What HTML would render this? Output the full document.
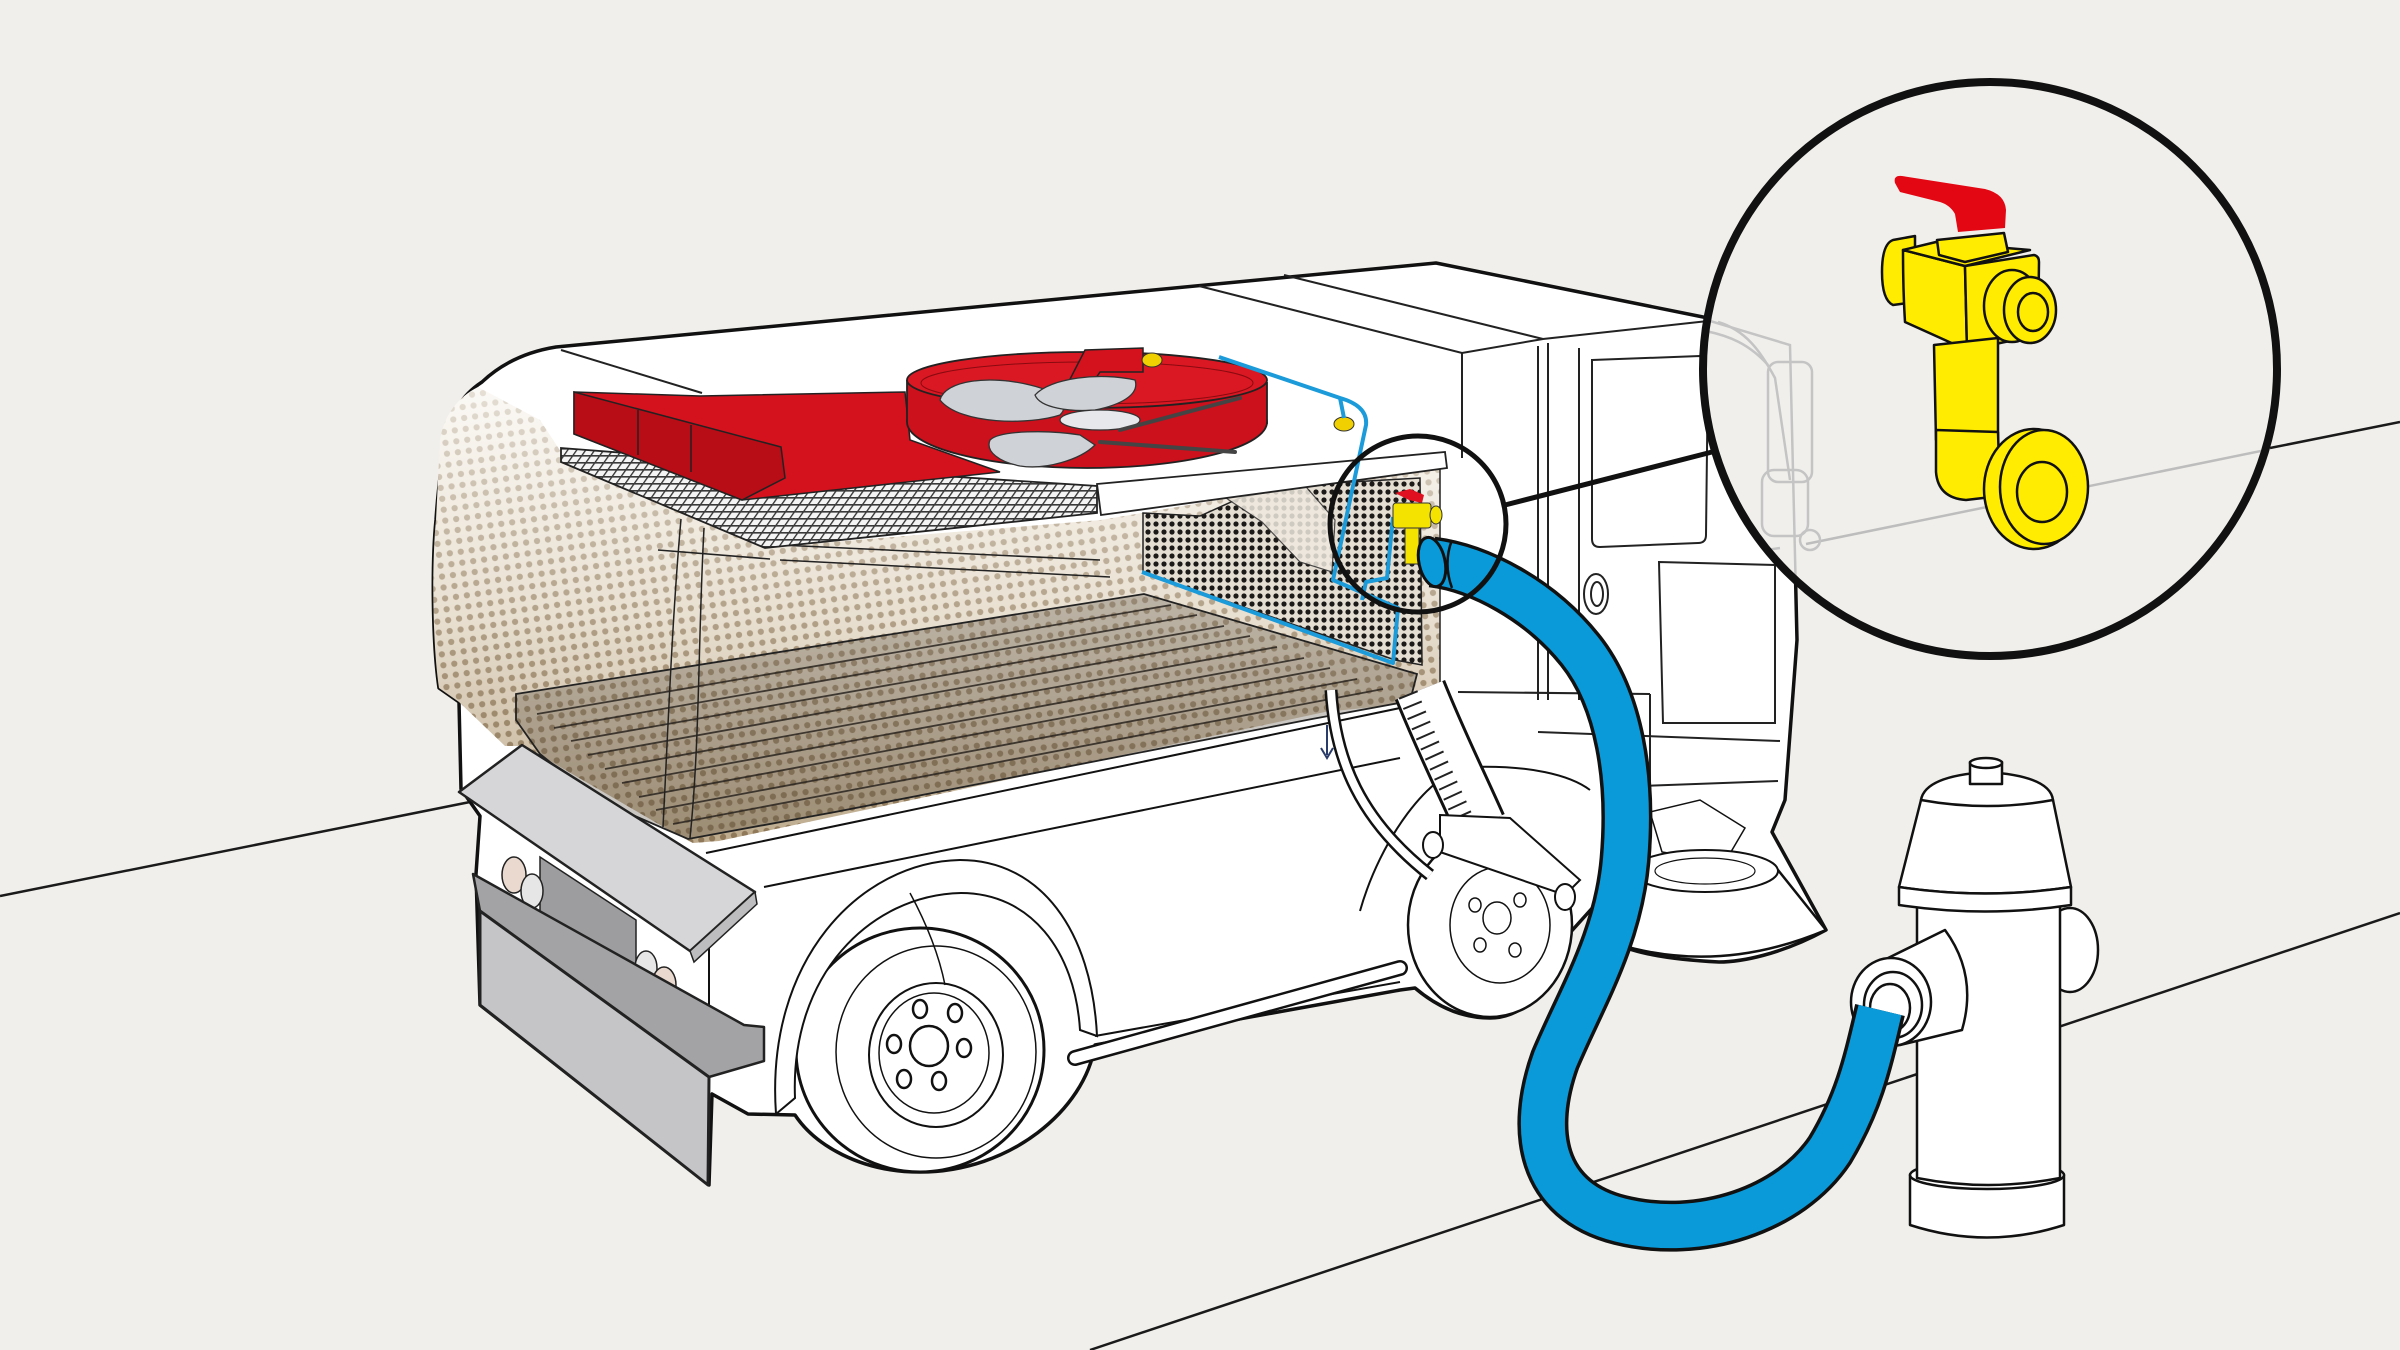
<!DOCTYPE html>
<html><head><meta charset="utf-8">
<style>html,body{margin:0;padding:0;background:#f0efeb;}svg{display:block}</style>
</head><body>
<svg width="2400" height="1350" viewBox="0 0 2400 1350" xmlns="http://www.w3.org/2000/svg">
<defs>
<pattern id="dots" width="11" height="11" patternUnits="userSpaceOnUse" patternTransform="rotate(-8)">
 <circle cx="5.5" cy="5.5" r="3.1" fill="#8d7758"/>
</pattern>
<linearGradient id="tan" x1="0" y1="390" x2="0" y2="850" gradientUnits="userSpaceOnUse">
 <stop offset="0" stop-color="#fbf9f5"/>
 <stop offset="0.5" stop-color="#e8dfd0"/>
 <stop offset="1" stop-color="#bca98b"/>
</linearGradient>
<linearGradient id="mg" x1="0" y1="390" x2="0" y2="850" gradientUnits="userSpaceOnUse">
 <stop offset="0" stop-color="#333"/><stop offset="1" stop-color="#fff"/>
</linearGradient>
<mask id="dm" maskUnits="userSpaceOnUse" x="0" y="0" width="2400" height="1350">
 <rect width="2400" height="1350" fill="url(#mg)"/>
</mask>
<pattern id="mesh" width="8" height="8" patternUnits="userSpaceOnUse">
 <rect width="8" height="8" fill="#e4ddd2"/><circle cx="4" cy="4" r="2.6" fill="#1c1a18"/>
</pattern>
<pattern id="grid" width="9" height="7" patternUnits="userSpaceOnUse" patternTransform="skewX(-35)">
 <rect width="9" height="7" fill="#f4f4f4"/><path d="M0 0.8H9M0.8 0V7" stroke="#3a3a3a" stroke-width="1.8"/>
</pattern>
<clipPath id="bigc"><circle cx="1990" cy="369" r="283"/></clipPath>
</defs>

<rect width="2400" height="1350" fill="#f0efeb"/>

<!-- road lines -->
<g stroke="#1a1a1a" stroke-width="2.5" fill="none">
 <line x1="0" y1="896" x2="470" y2="802"/>
 <line x1="1090" y1="1350" x2="2400" y2="913"/>
 <line x1="2270" y1="448" x2="2400" y2="422"/>
</g>

<!-- truck silhouette -->
<path d="M446,440 C450,415 462,395 482,382 C500,365 525,352 556,347 L1436,263 L1708,318 L1790,345 L1797,640 L1785,800 L1772,832 L1826,930 C1780,955 1740,962 1719,962 C1680,960 1640,955 1617,944 L1595,905 L1568,935 C1555,985 1525,1018 1490,1018 C1460,1018 1435,1005 1415,988 L1400,990 L1095,1045 C1085,1110 1010,1172 920,1172 C860,1172 815,1145 795,1115 L748,1114 L712,1094 L709,1185 L480,1005 L476,874 L480,816 L461,789 L459,702 L439,688 C432,640 432,560 436,520 C438,490 442,460 446,440 Z" fill="#fff" stroke="#111" stroke-width="3.5" stroke-linejoin="round"/>

<!-- cab lines -->
<g stroke="#222" stroke-width="2" fill="none">
 <path d="M1199,286 L1462,353 L1543,339 L1708,321"/>
 <path d="M1284,275 L1543,339"/>
 <path d="M1462,353 L1462,458"/>
 <path d="M1538,346 L1538,700 M1548,343 L1548,700 M1579,348 L1579,700"/>
 <path d="M1592,360 L1700,356 Q1708,356 1708,365 L1706,535 Q1706,543 1698,543 L1600,547 Q1592,547 1592,539 Z"/>
 <path d="M1659,562 L1775,565 L1775,723 L1663,723 Z"/>
 <path d="M1458,692 L1650,694 M1538,732 L1780,741 M1641,786 L1778,781 M1650,694 L1650,790"/>
 <ellipse cx="1596" cy="594" rx="12" ry="20"/>
 <ellipse cx="1597" cy="594" rx="6" ry="12"/>
 <path d="M561,350 L702,393"/>
</g>

<!-- halftone tank -->
<path d="M440,440 C444,415 458,397 478,387 L540,420 L561,452 L795,545 L1101,520 L1440,462 L1440,700 L1325,712 L719,841 L693,843 L674,833 L524,746 L505,746 L459,702 L439,688 C432,640 432,560 436,520 Z" fill="url(#tan)"/>
<path d="M440,440 C444,415 458,397 478,387 L540,420 L561,452 L795,545 L1101,520 L1440,462 L1440,700 L1325,712 L719,841 L693,843 L674,833 L524,746 L505,746 L459,702 L439,688 C432,640 432,560 436,520 Z" fill="url(#dots)" mask="url(#dm)"/>

<!-- mesh -->
<path d="M1143,513 L1200,516 L1240,498 L1300,485 L1420,478 L1422,665 L1395,660 L1143,572 Z" fill="url(#mesh)" stroke="#222" stroke-width="1.5"/>
<path d="M1217,492 L1265,478 L1300,480 L1335,520 L1332,572 L1300,562 L1262,522 Z" fill="#efe9df" opacity="0.85" stroke="#333" stroke-width="1.2"/>

<!-- floor -->
<path d="M516,694 L1144,594 L1417,674 L1410,701 L1312,719 L835,812 L688,839 L596,799 L540,754 L516,720 Z" fill="#4e4438" fill-opacity="0.3" stroke="#222" stroke-width="1.8"/>
<g stroke="#2a2520" stroke-width="1.8" opacity="0.85">
 <line x1="537" y1="714" x2="1171" y2="605"/><line x1="554" y1="728" x2="1197" y2="615"/>
 <line x1="571" y1="741" x2="1224" y2="626"/><line x1="588" y1="755" x2="1250" y2="636"/>
 <line x1="605" y1="769" x2="1277" y2="647"/><line x1="622" y1="783" x2="1304" y2="658"/>
 <line x1="639" y1="797" x2="1330" y2="668"/><line x1="656" y1="810" x2="1357" y2="679"/>
 <line x1="673" y1="824" x2="1383" y2="689"/>
</g>
<g stroke="#222" stroke-width="1.5" fill="none">
 <path d="M681,519 C672,620 668,730 663,827"/>
 <path d="M704,528 C698,640 700,740 690,838"/>
 <path d="M780,545 L1100,560 M780,560 L1110,577"/>
 <line x1="1440" y1="462" x2="1440" y2="700"/>
 <path d="M658,550 L770,559"/>
</g>

<!-- grille + board -->
<path d="M561,448 L820,468 L1097,486 L1097,513 L765,548 L561,462 Z" fill="url(#grid)" stroke="#222" stroke-width="1.8"/>
<path d="M1097,484 L1445,452 L1447,468 L1101,515 Z" fill="#fff" stroke="#222" stroke-width="1.8"/>

<!-- red unit -->
<path d="M574,392 L700,396 L905,392 L910,440 L1000,472 L742,500 L574,434 Z" fill="#d3121e" stroke="#222" stroke-width="1.5"/>
<path d="M574,392 L781,447 L785,478 L742,500 L574,434 Z" fill="#b80c17" stroke="#222" stroke-width="1.5"/>
<path d="M638,410 L638,455 M691,425 L691,472" stroke="#222" stroke-width="1.5"/>
<ellipse cx="1087" cy="422" rx="180" ry="46" fill="#cc101c" stroke="#222" stroke-width="1.8"/>
<rect x="907" y="380" width="360" height="42" fill="#cc101c"/>
<path d="M907,380 L907,422 M1267,382 L1267,424" stroke="#222" stroke-width="1.8"/>
<ellipse cx="1087" cy="380" rx="180" ry="28" fill="#da1823" stroke="#222" stroke-width="1.8"/>
<ellipse cx="1087" cy="383" rx="166" ry="21" fill="none" stroke="#8a0a10" stroke-width="1"/>
<path d="M1067,385 L1085,350 L1143,348 L1143,372 L1100,372 L1090,387 Z" fill="#d3121e" stroke="#222" stroke-width="1.5"/>
<g fill="#cfd2d6" stroke="#333" stroke-width="1.3">
 <path d="M940,400 C945,380 990,375 1030,385 C1060,392 1070,405 1060,415 C1030,425 960,425 940,400Z"/>
 <path d="M990,440 C1000,430 1050,430 1080,435 L1095,445 C1080,460 1045,470 1020,466 C1000,462 985,452 990,440Z"/>
 <path d="M1035,395 C1050,378 1100,372 1135,380 C1140,395 1120,405 1095,410 C1070,412 1040,408 1035,395Z"/>
 <ellipse cx="1100" cy="420" rx="40" ry="10" fill="#e6e8ec"/>
</g>
<path d="M1120,430 L1240,398 M1100,442 L1235,452" stroke="#444" stroke-width="4" stroke-linecap="round"/>
<ellipse cx="1152" cy="360" rx="10" ry="7" fill="#f0d000" stroke="#333" stroke-width="1"/>
<ellipse cx="1344" cy="424" rx="10" ry="7" fill="#f0d000" stroke="#333" stroke-width="1"/>

<!-- thin blue pipes -->
<g stroke="#1b9bd9" stroke-width="4" fill="none" stroke-linejoin="round">
 <path d="M1219,357 L1340,398 Q1368,406 1366,425 L1333,580 L1398,608 L1393,663 L1142,572"/>
 <path d="M1340,398 L1344,418"/>
 <path d="M1393,517 L1387,578 L1366,582 L1362,600"/>
</g>

<!-- small valve -->
<path d="M1395,493 L1410,489 L1424,495 L1422,503 L1409,500 Z" fill="#e01020"/>
<rect x="1393" y="503" width="38" height="25" rx="3" fill="#f4e200" stroke="#333" stroke-width="1"/>
<ellipse cx="1436" cy="515" rx="6" ry="9" fill="#f4e200" stroke="#333" stroke-width="1"/>
<rect x="1405" y="528" width="14" height="36" fill="#f4e200" stroke="#333" stroke-width="1"/>

<!-- body lines -->
<g stroke="#111" stroke-width="2" fill="none">
 <path d="M706,853 L1400,708"/>
 <path d="M764,887 L1400,758"/>
 <path d="M709,945 L709,1077"/>
 <path d="M1095,1036 L1400,982"/>
 <path d="M1360,911 C1380,840 1430,770 1470,767 C1530,765 1570,775 1590,790"/>
</g>
<path d="M1075,1058 L1400,968" stroke="#111" stroke-width="16" stroke-linecap="round"/>
<path d="M1075,1058 L1400,968" stroke="#fff" stroke-width="11" stroke-linecap="round"/>

<!-- rear wheel -->
<g stroke="#111" fill="#fff">
 <ellipse cx="1490" cy="925" rx="82" ry="92" stroke-width="2.5"/>
 <ellipse cx="1500" cy="925" rx="50" ry="58" stroke-width="1.5"/>
 <ellipse cx="1497" cy="918" rx="14" ry="16" stroke-width="1.5"/>
 <ellipse cx="1475" cy="905" rx="6" ry="7" stroke-width="1.5"/>
 <ellipse cx="1520" cy="900" rx="6" ry="7" stroke-width="1.5"/>
 <ellipse cx="1480" cy="945" rx="6" ry="7" stroke-width="1.5"/>
 <ellipse cx="1515" cy="950" rx="6" ry="7" stroke-width="1.5"/>
</g>

<!-- front wheel -->
<g stroke="#111" fill="#fff">
 <ellipse cx="920" cy="1050" rx="124" ry="122" stroke-width="3"/>
 <ellipse cx="936" cy="1052" rx="100" ry="106" stroke-width="1.5"/>
 <ellipse cx="936" cy="1055" rx="67" ry="72" stroke-width="2"/>
 <ellipse cx="934" cy="1053" rx="55" ry="60" stroke-width="1.5"/>
 <ellipse cx="929" cy="1046" rx="19" ry="20" stroke-width="2.5"/>
 <ellipse cx="920" cy="1009" rx="7" ry="9" stroke-width="2.5"/>
 <ellipse cx="955" cy="1013" rx="7" ry="9" stroke-width="2.5"/>
 <ellipse cx="964" cy="1048" rx="7" ry="9" stroke-width="2.5"/>
 <ellipse cx="939" cy="1081" rx="7" ry="9" stroke-width="2.5"/>
 <ellipse cx="904" cy="1079" rx="7" ry="9" stroke-width="2.5"/>
 <ellipse cx="894" cy="1044" rx="7" ry="9" stroke-width="2.5"/>
</g>
<path d="M776,1114 C765,960 860,862 960,860 C1040,860 1092,930 1097,1036 L1080,1030 C1075,950 1030,893 961,893 C870,895 790,975 795,1098 Z" fill="#fff" stroke="#111" stroke-width="2"/>
<path d="M910,893 C930,930 940,960 945,985" stroke="#111" stroke-width="1.5" fill="none"/>

<!-- front face -->
<path d="M540,857 L636,920 L636,975 L540,912 Z" fill="#9d9d9f" stroke="#222" stroke-width="1.5"/>
<ellipse cx="514" cy="875" rx="12" ry="18" fill="#ead9cf" stroke="#222" stroke-width="1.5"/>
<ellipse cx="532" cy="891" rx="11" ry="17" fill="#e6e6e6" stroke="#222" stroke-width="1.5"/>
<ellipse cx="646" cy="968" rx="11" ry="17" fill="#e6e6e6" stroke="#222" stroke-width="1.5"/>
<ellipse cx="664" cy="985" rx="12" ry="18" fill="#ead9cf" stroke="#222" stroke-width="1.5"/>
<path d="M459,792 L522,745 L755,892 L690,951 Z" fill="#d6d6d8" stroke="#222" stroke-width="2.5" stroke-linejoin="round"/>
<path d="M690,951 L755,892 L757,904 L694,962 Z" fill="#bdbdbf" stroke="#222" stroke-width="1.5"/>
<path d="M473,874 L744,1025 L764,1027 L764,1061 L709,1077 L480,911 Z" fill="#a3a3a5" stroke="#222" stroke-width="2.5" stroke-linejoin="round"/>
<path d="M480,911 L709,1077 L708,1185 L480,1005 Z" fill="#c5c5c8" stroke="#222" stroke-width="3" stroke-linejoin="round"/>

<!-- suction tube -->
<path d="M1420,690 C1440,740 1460,780 1480,825" stroke="#111" stroke-width="54" fill="none"/>
<path d="M1420,690 C1440,740 1460,780 1480,825" stroke="#fff" stroke-width="48" fill="none"/>
<path d="M1408,694 C1428,744 1448,784 1468,829" stroke="#222" stroke-width="20" stroke-dasharray="2 9" fill="none"/>
<path d="M1331,690 C1335,760 1360,820 1430,875" stroke="#111" stroke-width="13" fill="none"/>
<path d="M1331,690 C1335,760 1360,820 1430,875" stroke="#fff" stroke-width="8" fill="none"/>
<path d="M1327,725 L1327,755 M1321,748 L1327,758 L1333,748" stroke="#2a3c6a" stroke-width="2" fill="none"/>
<path d="M1440,815 L1510,818 L1580,880 L1565,895 L1440,852 Z" fill="#fff" stroke="#111" stroke-width="2"/>
<ellipse cx="1433" cy="845" rx="10" ry="13" fill="#fff" stroke="#111" stroke-width="2"/>
<ellipse cx="1565" cy="897" rx="10" ry="13" fill="#fff" stroke="#111" stroke-width="2"/>

<!-- brush -->
<path d="M1650,812 L1700,800 L1745,828 L1725,862 L1662,852 Z" fill="#fff" stroke="#111" stroke-width="1.5"/>
<path d="M1633,868 L1617,944 Q1719,975 1826,930 L1778,870 Z" fill="#fff" stroke="#111" stroke-width="2.5" stroke-linejoin="round"/>
<ellipse cx="1705" cy="871" rx="73" ry="21" fill="#fff" stroke="#111" stroke-width="2"/>
<ellipse cx="1705" cy="871" rx="50" ry="13" fill="none" stroke="#111" stroke-width="1.2"/>

<!-- hydrant -->
<g fill="#fff" stroke="#111" stroke-width="2.5" stroke-linejoin="round">
 <ellipse cx="2070" cy="950" rx="28" ry="42"/>
 <path d="M1910,1175 L1910,1225 Q1987,1250 2064,1225 L2064,1175 Z"/>
 <ellipse cx="1987" cy="1175" rx="77" ry="14"/>
 <path d="M1917,900 L1917,1178 Q1988,1192 2060,1178 L2060,900 Z"/>
 <path d="M1921,800 L1899,887 Q1985,900 2071,887 L2053,800 Z"/>
 <path d="M1899,887 Q1985,900 2071,887 L2071,905 Q1985,918 1899,905 Z"/>
 <path d="M1921,800 Q1925,776 1987,772 Q2050,776 2053,800 Q1987,812 1921,800 Z"/>
 <rect x="1970" y="762" width="32" height="22"/>
 <ellipse cx="1986" cy="763" rx="16" ry="5"/>
 <path d="M1880,962 L1945,930 Q1978,975 1962,1030 L1900,1045 Z"/>
 <ellipse cx="1891" cy="1002" rx="40" ry="44"/>
 <ellipse cx="1893" cy="1005" rx="29" ry="33"/>
 <ellipse cx="1890" cy="1008" rx="20" ry="24"/>
</g>

<!-- big hose -->
<path d="M1432,562 C1480,568 1540,600 1580,650 C1620,700 1632,780 1625,860 C1618,940 1580,1000 1555,1060 C1530,1130 1540,1200 1620,1220 C1700,1240 1790,1210 1830,1150 C1860,1100 1868,1060 1880,1010" stroke="#111" stroke-width="51" fill="none"/>
<path d="M1432,562 C1480,568 1540,600 1580,650 C1620,700 1632,780 1625,860 C1618,940 1580,1000 1555,1060 C1530,1130 1540,1200 1620,1220 C1700,1240 1790,1210 1830,1150 C1860,1100 1868,1060 1880,1010" stroke="#0b9ad9" stroke-width="44" fill="none"/>
<ellipse cx="1432" cy="562" rx="13" ry="25" transform="rotate(-12 1432 562)" fill="#0b9ad9" stroke="#111" stroke-width="3"/>
<path d="M1452,540 C1446,555 1446,572 1452,588" stroke="#111" stroke-width="2.5" fill="none"/>

<!-- small loupe -->
<circle cx="1418" cy="524" r="88" fill="none" stroke="#111" stroke-width="5"/>
<line x1="1505" y1="505" x2="1712" y2="452" stroke="#111" stroke-width="5"/>

<!-- big circle -->
<circle cx="1990" cy="369" r="287" fill="#f0efeb"/>
<g clip-path="url(#bigc)">
 <line x1="1806" y1="544" x2="2290" y2="445" stroke="#bdbdbd" stroke-width="2.5"/>
 <g stroke="#c4c4c4" stroke-width="2.5" fill="none">
  <path d="M1700,318 L1790,345 L1797,640"/>
  <path d="M1700,330 C1730,335 1750,345 1768,365"/>
  <path d="M1718,322 C1745,330 1760,350 1775,378 L1790,480"/>
  <rect x="1768" y="362" width="44" height="120" rx="10"/>
  <rect x="1762" y="470" width="46" height="66" rx="12"/>
  <ellipse cx="1810" cy="540" rx="10" ry="10"/>
  <path d="M1700,560 L1780,548"/>
 </g>
 <g stroke="#111" stroke-width="2.5" stroke-linejoin="round" fill="#ffec00">
  <path d="M1893,240 L1915,236 L1915,302 L1893,305 Q1882,300 1882,272 Q1882,244 1893,240 Z"/>
  <path d="M1903,250 L1965,266 L1967,350 L1905,322 Q1903,290 1903,250 Z"/>
  <path d="M1965,266 L2034,255 Q2039,256 2039,262 L2038,335 L1967,350 Z"/>
  <path d="M1903,250 L1936,242 L2030,250 L1965,266 Z"/>
  <path d="M1937,240 L2004,233 L2008,252 L1965,262 L1939,255 Z"/>
  <path d="M1934,345 L1998,338 L1998,440 L1936,440 Z"/>
  <path d="M1936,430 L1936,472 Q1938,498 1966,500 L2000,496 L1998,432 Z"/>
  <ellipse cx="2012" cy="306" rx="28" ry="36"/>
  <ellipse cx="2030" cy="310" rx="26" ry="33"/>
  <ellipse cx="2033" cy="312" rx="15" ry="19"/>
  <ellipse cx="2034" cy="489" rx="50" ry="60"/>
  <ellipse cx="2044" cy="487" rx="44" ry="57"/>
  <ellipse cx="2042" cy="492" rx="25" ry="30"/>
 </g>
 <path d="M1895,183 Q1893,175 1902,176 L1985,189 Q2005,194 2006,210 L2005,228 L1958,232 L1955,214 Q1950,205 1940,202 L1900,192 Z" fill="#e30613"/>
</g>
<circle cx="1990" cy="369" r="287" fill="none" stroke="#111" stroke-width="8"/>
</svg>
</body></html>
